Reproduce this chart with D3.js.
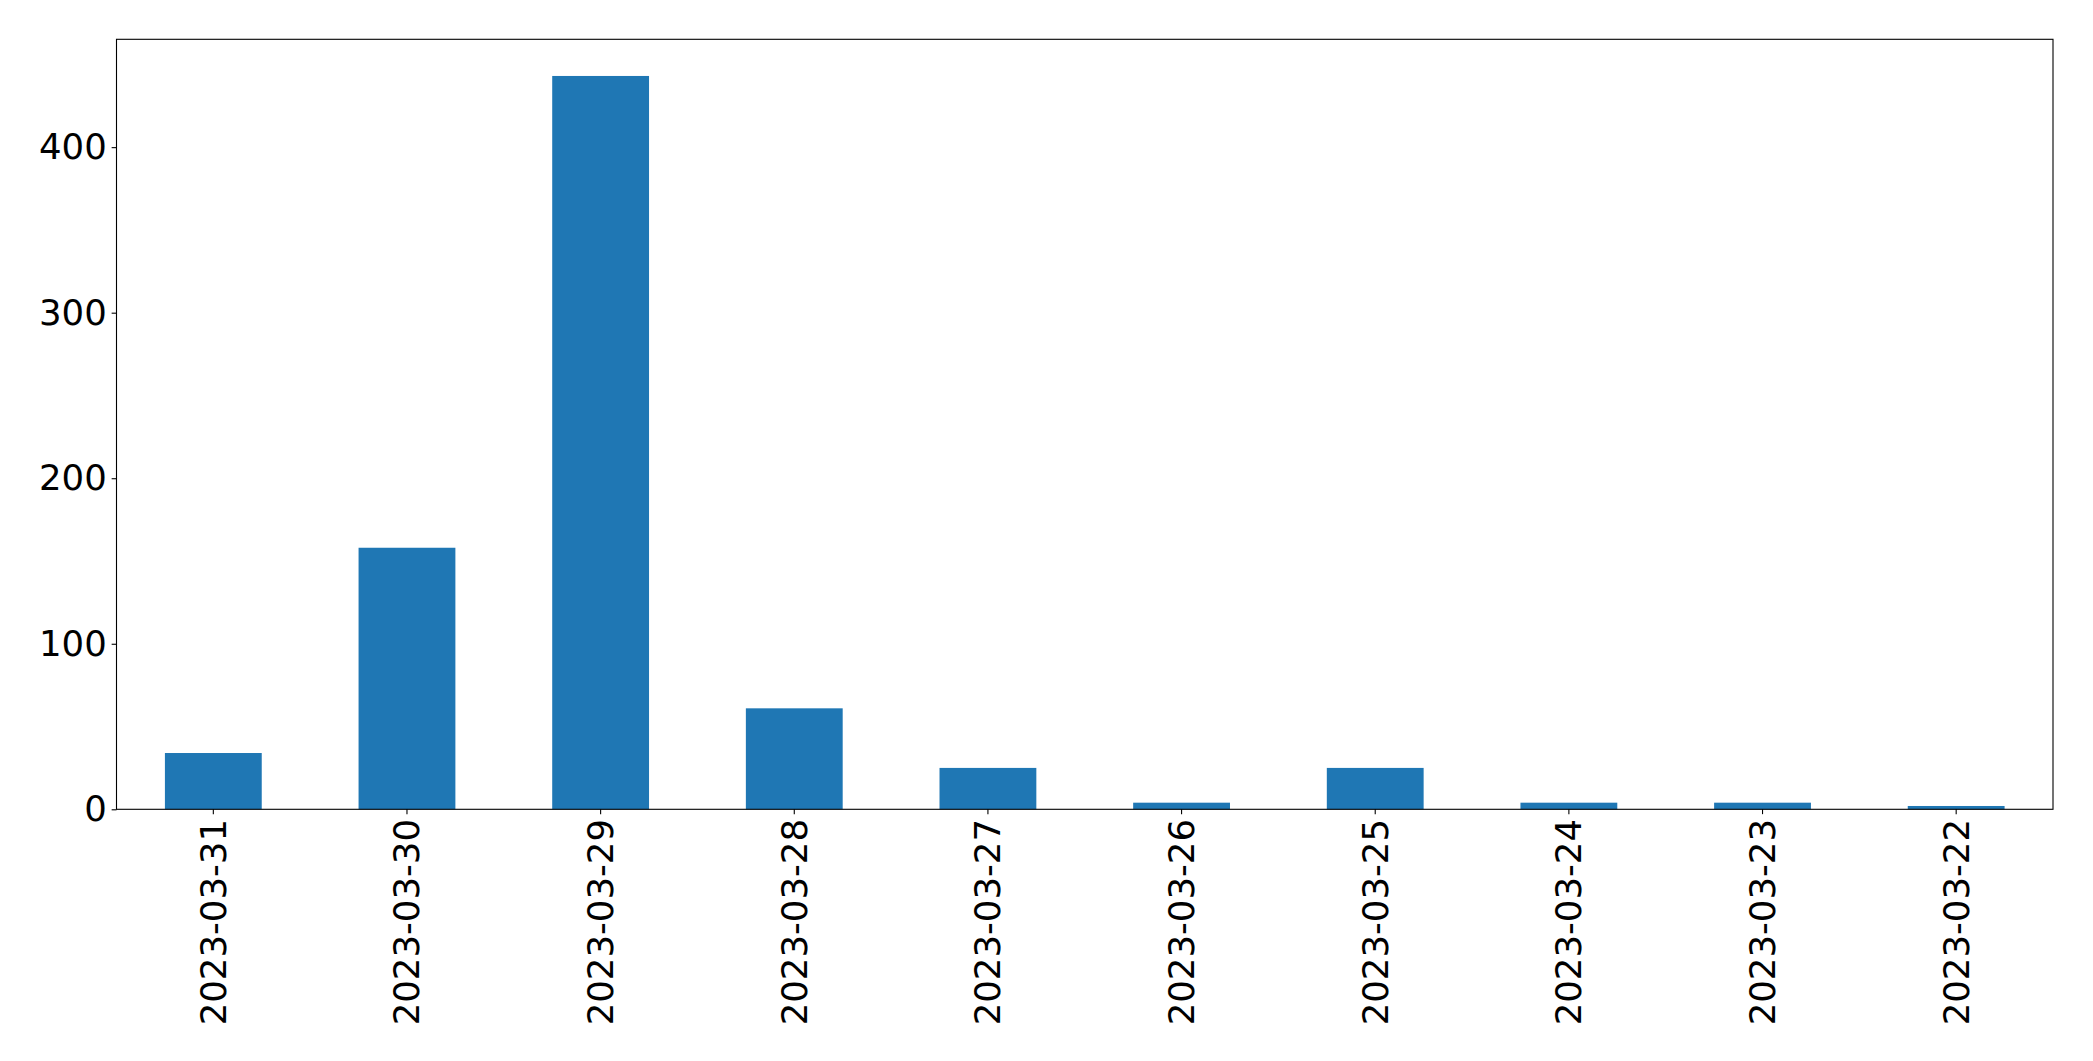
<!DOCTYPE html>
<html>
<head>
<meta charset="utf-8">
<script src="https://cdn.jsdelivr.net/npm/d3@7"></script>
<style>
  html, body { margin: 0; padding: 0; background: #fff; }
  svg { display: block; }
</style>
</head>
<body>
<script>
const categories = ["2023-03-31", "2023-03-30", "2023-03-29", "2023-03-28", "2023-03-27",
                    "2023-03-26", "2023-03-25", "2023-03-24", "2023-03-23", "2023-03-22"];
const values = [34, 158, 443, 61, 25, 4, 25, 4, 4, 2];
const yTicks = [0, 100, 200, 300, 400];

(function () {
const W = 2093, H = 1061;
const mLeft = 116.5, mRight = 2053, mTop = 39.3, mBottom = 809.3;
const fontSize = 35.5;
const font = "'DejaVu Sans', sans-serif";

const svg = d3.select("body").append("svg").attr("width", W).attr("height", H);

const x = d3.scaleBand().domain(categories).range([mLeft, mRight]).paddingInner(0.5).paddingOuter(0.25);
const y = d3.scaleLinear().domain([0, d3.max(values) * 1.05]).range([mBottom, mTop]);

svg.append("g").selectAll("rect").data(values).join("rect")
  .attr("x", (d, i) => x(categories[i]))
  .attr("width", x.bandwidth())
  .attr("y", d => y(d))
  .attr("height", d => y(0) - y(d))
  .attr("fill", "#1f77b4");

const yAxis = svg.append("g").attr("transform", `translate(${mLeft},0)`)
  .call(d3.axisLeft(y).tickValues(yTicks).tickFormat(d3.format("d")).tickSize(4.86).tickPadding(4.86));
const xAxis = svg.append("g").attr("transform", `translate(0,${mBottom})`)
  .call(d3.axisBottom(x).tickSize(4.86).tickPadding(4.86));

[yAxis, xAxis].forEach(g => {
  g.select(".domain").remove();
  g.selectAll(".tick line").attr("stroke", "#000").attr("stroke-width", 1.1);
  g.selectAll(".tick text").attr("fill", "#000").style("font-family", font).style("font-size", fontSize + "px");
});

xAxis.selectAll(".tick text")
  .attr("transform", "rotate(-90)")
  .attr("text-anchor", "end")
  .attr("x", -9.7)
  .attr("y", 0)
  .attr("dy", "0.35em");

svg.append("rect")
  .attr("x", mLeft).attr("y", mTop)
  .attr("width", mRight - mLeft).attr("height", mBottom - mTop)
  .attr("fill", "none").attr("stroke", "#000").attr("stroke-width", 1.1);
})();
</script>
</body>
</html>
